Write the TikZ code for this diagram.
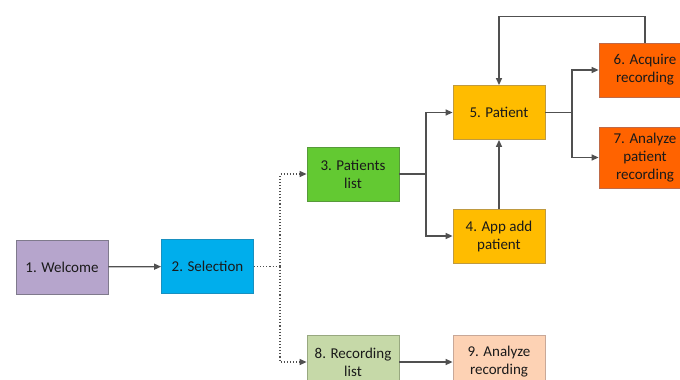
\documentclass[tikz,border=0pt]{standalone}
\usepackage{fontspec}
\setmainfont{Carlito}
\usetikzlibrary{arrows.meta}
\definecolor{txt}{HTML}{1A1A1A}
\definecolor{ln}{HTML}{505050}
\definecolor{cWel}{HTML}{B6A5CC}\definecolor{bWel}{HTML}{7F7A8C}
\definecolor{cSel}{HTML}{00AEEC}\definecolor{bSel}{HTML}{1890C0}
\definecolor{cGrn}{HTML}{63C932}\definecolor{bGrn}{HTML}{579A3A}
\definecolor{cAmb}{HTML}{FFBC00}\definecolor{bAmb}{HTML}{BF9A40}
\definecolor{cOra}{HTML}{FF6300}\definecolor{bOra}{HTML}{BF6A48}
\definecolor{cPgr}{HTML}{C6D9A8}\definecolor{bPgr}{HTML}{98A880}
\definecolor{cPea}{HTML}{FDD2B4}\definecolor{bPea}{HTML}{C8A898}
\begin{document}
\begin{tikzpicture}[x=1pt,y=-1pt,
  box/.style args={#1/#2}{fill=#1,draw=#2,line width=0.8pt,minimum width=92pt,minimum height=54pt,
    align=center,inner sep=0pt,text=txt,font=\fontsize{15}{18}\selectfont},
  arr/.style={draw=ln,line width=1.3pt,-{Triangle[length=7pt,width=6pt]}},
  dotarr/.style={draw=ln,line width=1.1pt,dotted,-{Triangle[length=7pt,width=6pt]}},
  dotln/.style={draw=ln,line width=1.1pt,dotted}]
\useasboundingbox (0,0) rectangle (680,380);
\clip (0,0) rectangle (680,380);
\node[box=cWel/bWel] (w) at (62,267) {1. Welcome};
\node[box=cSel/bSel] (s) at (207.5,266.5) {2. Selection};
\node[box=cGrn/bGrn] (p3) at (353,174) {3. Patients\\list};
\node[box=cAmb/bAmb] (p5) at (499,112.5) {5. Patient};
\node[box=cAmb/bAmb] (p4) at (499,236) {4. App add\\patient};
\node[box=cOra/bOra] (p6) at (645,70) {6. Acquire\\recording};
\node[box=cOra/bOra,minimum height=61pt] (p7) at (645,157.5) {7. Analyze\\patient\\recording};
\node[box=cPgr/bPgr] (p8) at (353,362) {8. Recording\\list};
\node[box=cPea/bPea] (p9) at (499,362) {9. Analyze\\recording};
\coordinate (j1) at (280,266.5);
\coordinate (j2) at (426,174);
\coordinate (j3) at (572,112.5);
\draw[arr] (w) -- (s);
\draw[dotln] (s) -- (j1);
\draw[dotarr] (j1) |- (p3);
\draw[dotarr] (j1) |- (p8);
\draw[draw=ln,line width=1.3pt] (p3) -- (j2);
\draw[arr] (j2) |- (p5);
\draw[arr] (j2) |- (p4);
\draw[arr] (p4) -- (p5);
\draw[draw=ln,line width=1.3pt] (p5) -- (j3);
\draw[arr] (j3) |- (p6);
\draw[arr] (j3) |- (p7);
\draw[arr] (p6.north) -- ++(0,-26) -| (p5.north);
\draw[arr] (p8) -- (p9);
\end{tikzpicture}
\end{document}
